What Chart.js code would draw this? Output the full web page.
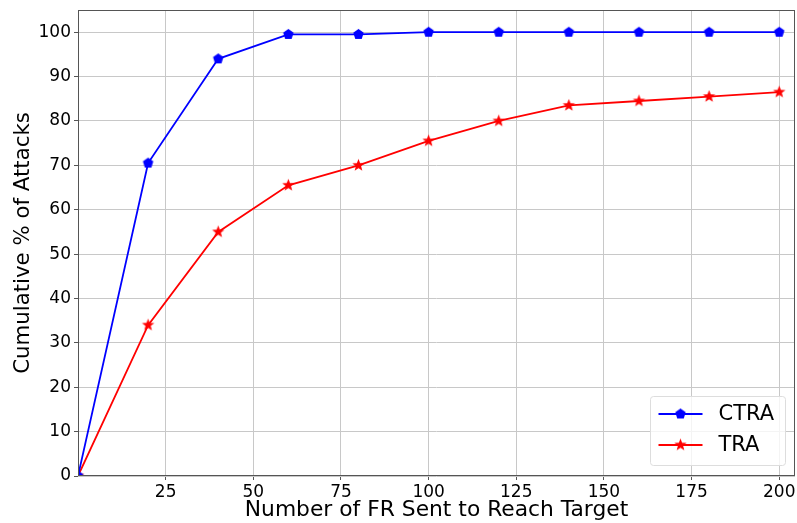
<!DOCTYPE html>
<html><head><meta charset="utf-8">
<script src="https://cdn.jsdelivr.net/npm/chart.js@4/dist/chart.umd.min.js"></script>
<style>html,body{margin:0;padding:0;background:#fff}#wrap{width:797px;height:523px}</style>
</head><body><div id="wrap"><canvas id="c" width="797" height="523"></canvas></div>
<script>
const xValues = [0, 20, 40, 60, 80, 100, 120, 140, 160, 180, 200];
const ctraValues = [0, 70.5, 94, 99.5, 99.5, 100, 100, 100, 100, 100, 100];
const traValues = [0, 34, 55, 65.5, 70, 75.5, 80, 83.5, 84.5, 85.5, 86.5];
const xTicks = [25, 50, 75, 100, 125, 150, 175, 200];
const yTicks = [0, 10, 20, 30, 40, 50, 60, 70, 80, 90, 100];
const seriesLabels = ['CTRA', 'TRA'];
const FONT = "'DejaVu Sans', sans-serif";

function makeMarker(kind, color, r) {
  const s = Math.ceil(r * 2 + 2);
  const c = document.createElement('canvas');
  c.width = s; c.height = s;
  const g = c.getContext('2d');
  const cx = s / 2, cy = s / 2;
  g.beginPath();
  if (kind === 'pentagon') {
    for (let i = 0; i < 5; i++) {
      const a = -Math.PI / 2 + i * 2 * Math.PI / 5;
      const px = cx + r * Math.cos(a), py = cy + r * Math.sin(a);
      i ? g.lineTo(px, py) : g.moveTo(px, py);
    }
  } else {
    for (let i = 0; i < 10; i++) {
      const a = -Math.PI / 2 + i * Math.PI / 5;
      const rr = i % 2 ? r * 0.42 : r;
      const px = cx + rr * Math.cos(a), py = cy + rr * Math.sin(a);
      i ? g.lineTo(px, py) : g.moveTo(px, py);
    }
  }
  g.closePath();
  g.fillStyle = color; g.fill();
  return c;
}
const pent = makeMarker('pentagon', '#0000ff', 5.5);
const star = makeMarker('star', '#ff0000', 6.5);

const frame = {
  id: 'frame',
  afterDraw(chart) {
    const {ctx, chartArea: a} = chart;
    ctx.save();
    ctx.strokeStyle = '#555'; ctx.lineWidth = 1;
    ctx.strokeRect(a.left + 0.5, a.top + 0.5, a.right - a.left - 1, a.bottom - a.top - 1);
    // legend
    const bx = 650.5, by = 396.5, bw = 135, bh = 69;
    ctx.fillStyle = 'rgba(255,255,255,0.8)';
    ctx.strokeStyle = '#dddddd';
    ctx.beginPath();
    ctx.roundRect(bx, by, bw, bh, 3);
    ctx.fill(); ctx.stroke();
    ctx.font = '21px ' + FONT;
    ctx.textBaseline = 'middle';
    chart.data.datasets.forEach((d, i) => {
      const y = by + 17.5 + i * 31;
      ctx.strokeStyle = d.borderColor; ctx.lineWidth = 1.8;
      ctx.beginPath(); ctx.moveTo(bx + 8, y); ctx.lineTo(bx + 52, y); ctx.stroke();
      const img = d.pointStyle;
      ctx.drawImage(img, bx + 30 - img.width / 2, y - img.height / 2);
      ctx.fillStyle = '#000';
      ctx.fillText(d.label, bx + 68, y + 1);
    });
    ctx.restore();
  }
};

new Chart(document.getElementById('c'), {
  type: 'line',
  data: {
    datasets: [
      {label: seriesLabels[0], data: xValues.map((x, i) => ({x, y: ctraValues[i]})),
       borderColor: '#0000ff', backgroundColor: '#0000ff', borderWidth: 1.8,
       pointStyle: pent, pointRadius: 5, tension: 0},
      {label: seriesLabels[1], data: xValues.map((x, i) => ({x, y: traValues[i]})),
       borderColor: '#ff0000', backgroundColor: '#ff0000', borderWidth: 1.8,
       pointStyle: star, pointRadius: 5, tension: 0}
    ]
  },
  options: {
    responsive: false, animation: false,
    layout: {autoPadding: false, padding: {top: 10, right: 2, left: 0, bottom: 0}},
    plugins: {legend: {display: false}, tooltip: {enabled: false}},
    scales: {
      x: {
        type: 'linear', min: 0, max: 204.5,
        afterBuildTicks: ax => { ax.ticks = xTicks.map(v => ({value: v})); },
        afterFit: ax => { ax.height = 47; ax.paddingLeft = 0; ax.paddingRight = 0; },
        grid: {color: '#c8c8c8', lineWidth: 1, tickLength: 4, tickColor: '#555', drawTicks: true},
        border: {display: false},
        ticks: {color: '#000', font: {family: FONT, size: 17}, padding: 2, maxRotation: 0, autoSkip: false},
        title: {display: true, text: 'Number of FR Sent to Reach Target', color: '#000',
                font: {family: FONT, size: 21.8}, padding: {top: -4, bottom: 0}}
      },
      y: {
        type: 'linear', min: 0, max: 105,
        afterBuildTicks: ax => { ax.ticks = yTicks.map(v => ({value: v})); },
        afterFit: ax => { ax.width = 78; ax.paddingTop = 0; ax.paddingBottom = 0; },
        grid: {color: '#c8c8c8', lineWidth: 1, tickLength: 4, tickColor: '#555'},
        border: {display: false},
        ticks: {color: '#000', font: {family: FONT, size: 17}, padding: 3, autoSkip: false},
        title: {display: true, text: 'Cumulative % of Attacks', color: '#000',
                font: {family: FONT, size: 21.3}, padding: {top: 11, bottom: 4}}
      }
    }
  },
  plugins: [frame]
});
</script></body></html>
